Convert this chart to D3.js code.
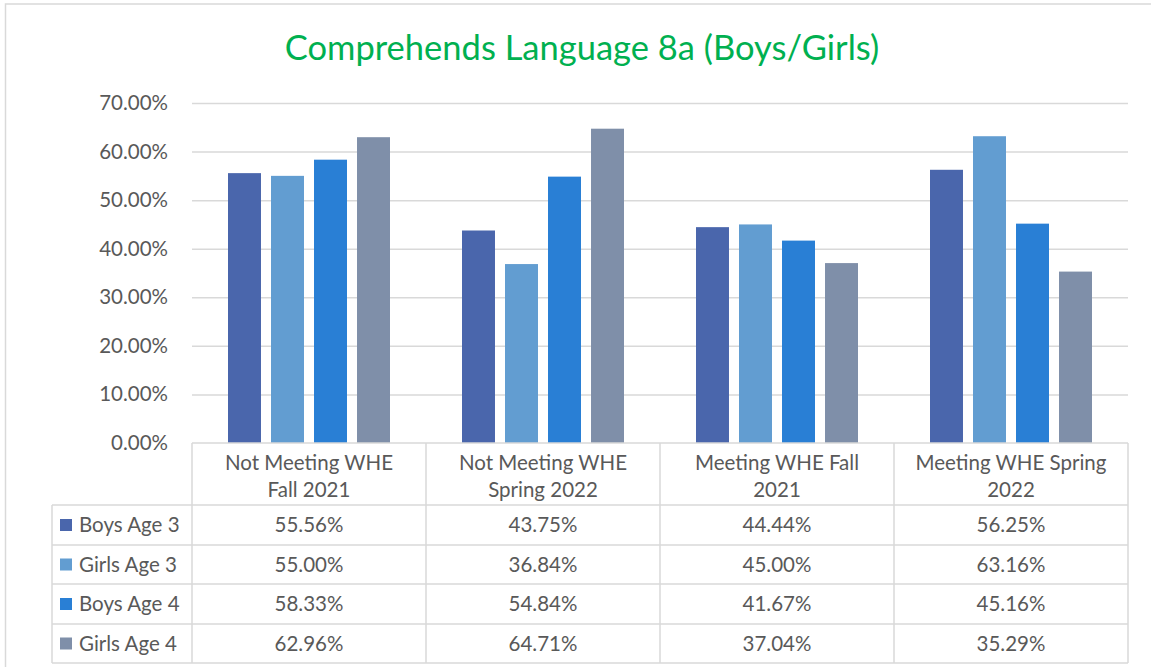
<!DOCTYPE html>
<html><head><meta charset="utf-8">
<script src="https://cdn.jsdelivr.net/npm/d3@7"></script>
<style>body{margin:0;background:#fff}svg{display:block}text{font-family:Lato,"Open Sans",sans-serif}</style>
</head><body><svg id="c" width="1151" height="667"></svg>
<script>
const title = "Comprehends Language 8a (Boys/Girls)";
const categories = [["Not Meeting WHE","Fall 2021"],["Not Meeting WHE","Spring 2022"],["Meeting WHE Fall","2021"],["Meeting WHE Spring","2022"]];
const seriesNames = ["Boys Age 3","Girls Age 3","Boys Age 4","Girls Age 4"];
const boysAge3 = [0.5556,0.4375,0.4444,0.5625];
const girlsAge3 = [0.5500,0.3684,0.4500,0.6316];
const boysAge4 = [0.5833,0.5484,0.4167,0.4516];
const girlsAge4 = [0.6296,0.6471,0.3704,0.3529];
const yTicks = [0,0.1,0.2,0.3,0.4,0.5,0.6,0.7];
const colors = ["#4A66AC","#629DD1","#297FD5","#7F8FA9"];
const series = [boysAge3,girlsAge3,boysAge4,girlsAge4];

const svg = d3.select("#c");
const grid = "#D9D9D9", txt = "#595959", fs = 20.5;
const L=192,R=1128,T=103,B=443;
svg.append("rect").attr("x",5.5).attr("y",4).attr("width",1200).attr("height",700).attr("fill","none").attr("stroke",grid).attr("stroke-width",1.5);
svg.append("text").attr("x",582).attr("y",60).attr("text-anchor","middle").attr("fill","#00B050").attr("font-size",34.5).text(title);

const y = d3.scaleLinear().domain([0,0.7]).range([B,T]);
const x = d3.scaleBand().domain(d3.range(categories.length)).range([L,R]);
const xi = d3.scaleBand().domain(d3.range(series.length)).range([36,198]).paddingInner(0.233).paddingOuter(0);

const yAxis = d3.axisLeft(y).tickValues(yTicks).tickSize(-(R-L)).tickPadding(24).tickFormat(d=>d3.format(".2%")(d));
const ga = svg.append("g").attr("transform",`translate(${L},0)`).call(yAxis);
ga.select(".domain").remove();
ga.selectAll(".tick line").attr("stroke",grid).attr("stroke-width",1.5);
ga.selectAll(".tick text").attr("fill",txt).attr("font-size",fs).attr("font-family","Lato,sans-serif");
ga.selectAll(".tick").filter(d=>d===0).select("line").remove();

const gb = svg.append("g");
series.forEach((s,si)=>{
  gb.selectAll(null).data(s).enter().append("rect")
    .attr("x",(d,i)=>x(i)+xi(si)).attr("width",xi.bandwidth())
    .attr("y",d=>y(d)).attr("height",d=>B-y(d)).attr("fill",colors[si]);
});

// table
const rowY = [443,505,545,584,624,663];
const LL = 52;
const tg = svg.append("g").attr("stroke",grid).attr("stroke-width",1.5).attr("fill","none");
tg.append("line").attr("x1",L).attr("x2",R).attr("y1",B).attr("y2",B);
rowY.slice(1).forEach(v=>tg.append("line").attr("x1",LL).attr("x2",R).attr("y1",v).attr("y2",v));
tg.append("line").attr("x1",LL).attr("x2",LL).attr("y1",rowY[1]).attr("y2",rowY[5]);
[0,1,2,3,4].forEach(i=>{const xx = i<4? x(i): R; tg.append("line").attr("x1",xx).attr("x2",xx).attr("y1",B).attr("y2",rowY[5]);});

categories.forEach((c,i)=>{
  c.forEach((line,li)=>{
    svg.append("text").attr("x",x(i)+x.bandwidth()/2).attr("y",470+li*27).attr("text-anchor","middle").attr("fill",txt).attr("font-size",fs).text(line);
  });
});
const fmt = d3.format(".2%");
series.forEach((s,si)=>{
  const cy = (rowY[si+1]+rowY[si+2])/2;
  svg.append("rect").attr("x",60).attr("y",cy-6).attr("width",12).attr("height",12).attr("fill",colors[si]);
  svg.append("text").attr("x",79).attr("y",cy+7).attr("fill",txt).attr("font-size",fs).text(seriesNames[si]);
  s.forEach((v,i)=>{
    svg.append("text").attr("x",x(i)+x.bandwidth()/2).attr("y",cy+7).attr("text-anchor","middle").attr("fill",txt).attr("font-size",fs).text(fmt(v));
  });
});
</script></body></html>
